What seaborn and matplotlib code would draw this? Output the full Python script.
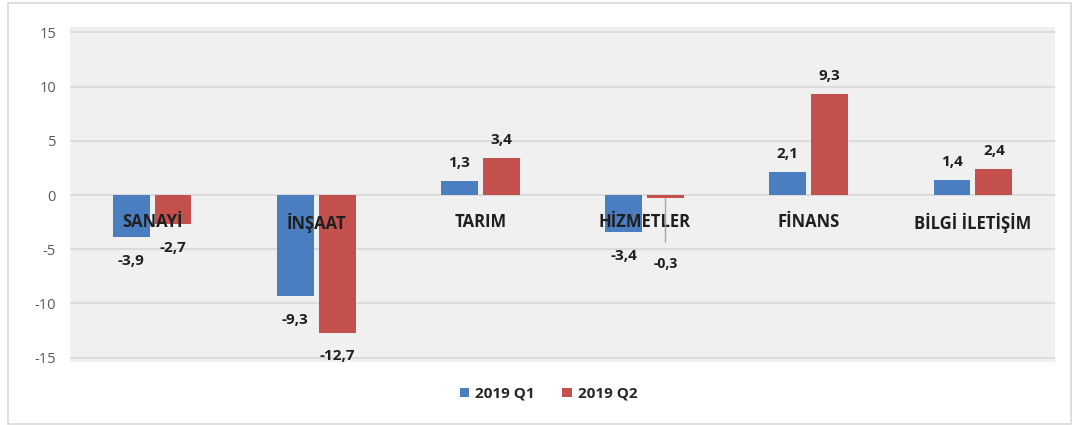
import matplotlib
matplotlib.use("Agg")
import matplotlib.pyplot as plt
from matplotlib.patches import Rectangle
import seaborn as sns
import pandas as pd

# ---- data ----
sectors = ["SANAYİ", "İNŞAAT", "TARIM", "HİZMETLER", "FİNANS", "BİLGİ İLETİŞİM"]
q1_values = [-3.9, -9.3, 1.3, -3.4, 2.1, 1.4]
q2_values = [-2.7, -12.7, 3.4, -0.3, 9.3, 2.4]
series_names = ["2019 Q1", "2019 Q2"]
y_ticks = [15, 10, 5, 0, -5, -10, -15]

BLUE = "#4A7EC1"
RED = "#C4504D"

df = pd.DataFrame({
    "sector": sectors * 2,
    "value": q1_values + q2_values,
    "period": [series_names[0]] * len(sectors) + [series_names[1]] * len(sectors),
})

sns.set_theme(style="white")
plt.rcParams["font.family"] = ["Open Sans", "DejaVu Sans"]

fig = plt.figure(figsize=(10.73, 4.25), dpi=100)
fig.patch.set_facecolor("white")
ax = fig.add_axes([70 / 1073, 63 / 425, 985 / 1073, 335 / 425])
ax.set_facecolor("#F0F0F0")

# gridlines drawn beneath bars, axis (tick labels) stays above bars
for t in y_ticks:
    ax.axhline(t, color="#D9D9D9", lw=1.3, zorder=0)

sns.barplot(data=df, x="sector", y="value", hue="period", order=sectors,
            hue_order=series_names, palette=[BLUE, RED], width=0.51, gap=0.12,
            saturation=1, linewidth=0, ax=ax, zorder=1)

ax.set_axisbelow(False)
ax.set_ylim(-15.4, 15.5)
ax.set_xlim(-0.5, len(sectors) - 0.5)
ax.set_yticks(y_ticks)
ax.set_yticklabels([str(t) for t in y_ticks], color="#595959", fontsize=10.5)
ax.grid(False)
for s in ax.spines.values():
    s.set_visible(False)
ax.spines["bottom"].set_position(("data", 0))
ax.tick_params(axis="x", length=0, pad=13, labelsize=12, colors="#1F1F1F")
ax.tick_params(axis="y", length=0, pad=10)
for lbl in ax.get_xticklabels():
    lbl.set_fontweight("bold")
ax.set_xlabel("")
ax.set_ylabel("")

def fmt(v):
    return f"{v:.1f}".replace(".", ",")

special = ("HİZMETLER", 1)  # label with leader line
for h, cont in enumerate(ax.containers):
    vals = q1_values if h == 0 else q2_values
    pos_labels, neg_labels = [], []
    for i, v in enumerate(vals):
        skip = sectors[i] == special[0] and h == special[1]
        pos_labels.append(fmt(v) if (v >= 0 and not skip) else "")
        neg_labels.append(fmt(v) if (v < 0 and not skip) else "")
    ax.bar_label(cont, labels=pos_labels, padding=8, fontsize=11,
                 fontweight="bold", color="#1F1F1F")
    ax.bar_label(cont, labels=neg_labels, padding=12, fontsize=11,
                 fontweight="bold", color="#1F1F1F")

# leader-line label for HİZMETLER Q2
idx = sectors.index(special[0])
bar = ax.containers[special[1]][idx]
bx = bar.get_x() + bar.get_width() / 2
by = min(bar.get_y(), bar.get_y() + bar.get_height())
ax.annotate(fmt(q2_values[idx]), xy=(bx, by), xytext=(0, -47),
            textcoords="offset points", ha="center", va="center",
            fontsize=10, fontweight="bold", color="#1F1F1F",
            arrowprops=dict(arrowstyle="-", color="#A6A6A6", lw=1,
                            shrinkA=8, shrinkB=0))

leg = ax.legend(loc="center", bbox_to_anchor=(0.486, -0.095), ncol=2,
                frameon=False, handlelength=0.6, handleheight=0.6,
                handletextpad=0.4, columnspacing=1.8,
                prop={"weight": "bold", "size": 11})
for t in leg.get_texts():
    t.set_color("#262626")

fig.patches.append(Rectangle((8 / 1073, 1 / 425), 1063 / 1073, 421 / 425,
                             transform=fig.transFigure, fill=False,
                             edgecolor="#D9D9D9", lw=1.2))

fig.savefig("out.png", dpi=100)
